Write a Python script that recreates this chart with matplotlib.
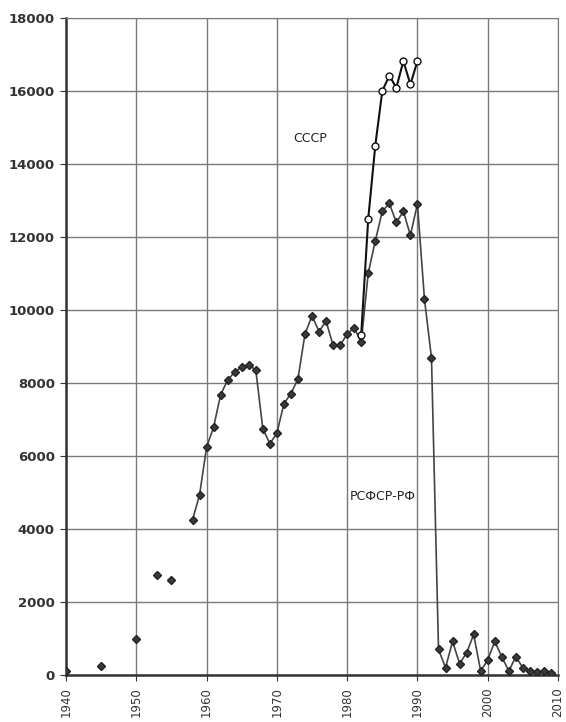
import matplotlib.pyplot as plt
import numpy as np

# early isolated points (RSFSR), no connecting line
early_years = [1940, 1945, 1950, 1953, 1955]
early_vals = [110, 255, 990, 2730, 2600]

# RSFSR - RF, continuous from 1958
rsfsr_years = np.arange(1958, 2010)
rsfsr_vals = [4250, 4930, 6240, 6790, 7680, 8080, 8300, 8440, 8490, 8360,
              6750, 6340, 6620, 7430, 7710, 8110, 9340, 9840, 9410, 9700,
              9030, 9030, 9340, 9520, 9110, 11010, 11890, 12700, 12920, 12400,
              12700, 12050, 12900, 10300, 8690, 700, 200, 920, 310, 610,
              1110, 110, 410, 920, 500, 110, 500, 200, 100, 80,
              110, 45]

# USSR
ussr_years = np.arange(1982, 1991)
ussr_vals = [9320, 12500, 14500, 16000, 16420, 16090, 16820, 16180, 16820]

fig = plt.figure(figsize=(5.66, 7.22), dpi=100)
ax = fig.add_axes([66/566, 1 - 675/722, (558-66)/566, (675-18)/722])

ax.plot(early_years, early_vals, linestyle='none', marker='D', markersize=4.5,
        color='#3a3a3a', markeredgecolor='#222222', zorder=3)
ax.plot(rsfsr_years, rsfsr_vals, color='#444444', linewidth=1.2, marker='D',
        markersize=4.5, markerfacecolor='#3a3a3a', markeredgecolor='#222222', zorder=3)
ax.plot(ussr_years, ussr_vals, color='#111111', linewidth=1.5, marker='o',
        markersize=5, markerfacecolor='white', markeredgecolor='#111111', zorder=4)

ax.text(1974.7, 14700, 'СССР', fontsize=9, ha='center', va='center', color='#222222')
ax.text(1985.1, 4880, 'РСФСР-РФ', fontsize=9, ha='center', va='center', color='#222222')

ax.set_xlim(1940, 2010)
ax.set_ylim(0, 18000)
ax.set_xticks(np.arange(1940, 2011, 10))
ax.set_yticks(np.arange(0, 18001, 2000))
ax.tick_params(axis='x', labelsize=8.5, labelrotation=90, length=4, color='#333333', pad=5)
ax.tick_params(axis='y', labelsize=9.5, length=4, color='#333333', pad=4)
for lab in ax.get_yticklabels():
    lab.set_fontweight('bold')
    lab.set_color('#333333')
for lab in ax.get_xticklabels():
    lab.set_color('#333333')

ax.grid(True, color='#7a7a7a', linewidth=1.0)
ax.set_axisbelow(True)
ax.spines['left'].set_color('#333333')
ax.spines['left'].set_linewidth(1.8)
ax.spines['bottom'].set_color('#333333')
ax.spines['bottom'].set_linewidth(1.8)
ax.spines['top'].set_color('#7a7a7a')
ax.spines['right'].set_color('#7a7a7a')

plt.savefig('out.png', dpi=100)
